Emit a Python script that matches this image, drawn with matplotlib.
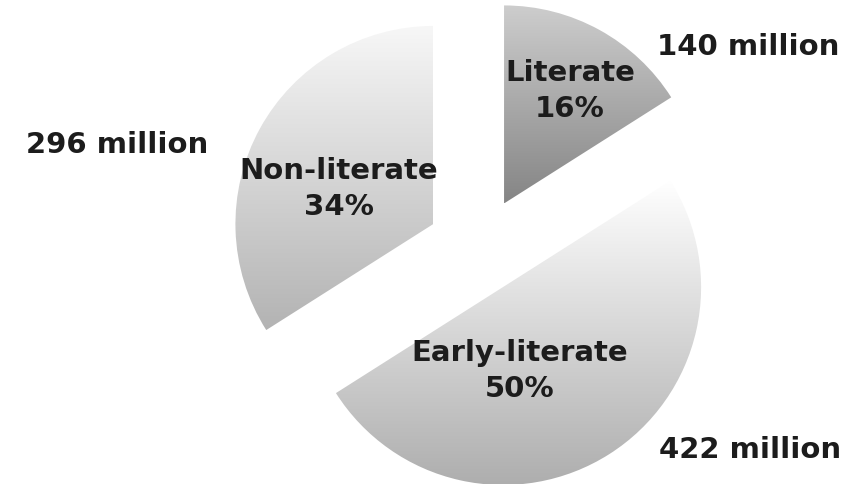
import matplotlib
matplotlib.use('Agg')
import matplotlib.pyplot as plt
import numpy as np
from matplotlib.colors import LinearSegmentedColormap

plt.rcParams['font.family'] = 'DejaVu Sans'

# data
labels = ['Literate', 'Early-literate', 'Non-literate']
shares = [16, 50, 34]
millions = [140, 422, 296]

# styling (explode is in data units = pixels here)
explode = [52, 45, 52]
grad_colors = [('#cdcdcd', '#858585'), ('#ffffff', '#aeaeae'), ('#f7f7f7', '#b3b3b3')]
W, H = 857, 485
center = (479, H - 250)
radius = 198

fig = plt.figure(figsize=(W / 100, H / 100), dpi=100)
fig.patch.set_facecolor('white')
ax = fig.add_axes([0, 0, 1, 1])

wedges, _ = ax.pie(shares, startangle=90, counterclock=False, explode=explode,
                   center=center, radius=radius, frame=True,
                   wedgeprops=dict(facecolor='none', edgecolor='none'))

grad = np.linspace(0, 1, 256).reshape(-1, 1)
for w, (c_top, c_bot) in zip(wedges, grad_colors):
    bb = w.get_path().get_extents()
    cmap = LinearSegmentedColormap.from_list('g', [c_top, c_bot])
    im = ax.imshow(grad, cmap=cmap, extent=[bb.x0, bb.x1, bb.y0, bb.y1],
                   origin='upper', aspect='auto', interpolation='bilinear', zorder=1)
    im.set_clip_path(w)

# slice labels (name + share)
inner_pos = {'Literate': (570, 91), 'Early-literate': (520, 371), 'Non-literate': (339, 189)}
for lab, s in zip(labels, shares):
    x, y = inner_pos[lab]
    ax.text(x, H - y, f'{lab}\n{s}%', ha='center', va='center', fontsize=21,
            fontweight='bold', color='#1c1c1c', linespacing=1.4, zorder=3)

# population labels
outer_pos = {'Literate': (748, 47), 'Early-literate': (750, 450), 'Non-literate': (117, 145)}
for lab, m in zip(labels, millions):
    x, y = outer_pos[lab]
    ax.text(x, H - y, f'{m} million', ha='center', va='center', fontsize=21,
            fontweight='bold', color='#1c1c1c', zorder=3)

ax.set_xlim(0, W)
ax.set_ylim(0, H)
ax.set_aspect('equal')
ax.axis('off')

fig.savefig('out.png', dpi=100, facecolor='white')
